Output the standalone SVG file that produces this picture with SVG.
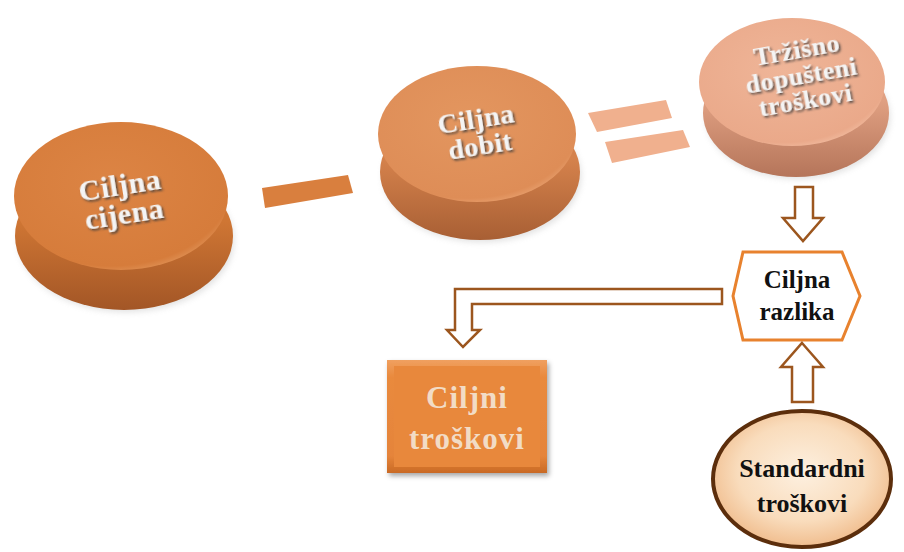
<svg xmlns="http://www.w3.org/2000/svg" width="904" height="552" viewBox="0 0 904 552">
<defs>
<radialGradient id="top1" cx="0.45" cy="0.4" r="0.65">
<stop offset="0" stop-color="#dc8444"/><stop offset="0.88" stop-color="#d67c3b"/><stop offset="1" stop-color="#e3995f"/>
</radialGradient>
<linearGradient id="side1" x1="0" y1="0" x2="0" y2="1">
<stop offset="0.4" stop-color="#cf7634"/><stop offset="1" stop-color="#a35626"/>
</linearGradient>
<radialGradient id="top2" cx="0.45" cy="0.4" r="0.65">
<stop offset="0" stop-color="#e3965f"/><stop offset="0.88" stop-color="#de8d57"/><stop offset="1" stop-color="#eba676"/>
</radialGradient>
<linearGradient id="side2" x1="0" y1="0" x2="0" y2="1">
<stop offset="0.4" stop-color="#d5824c"/><stop offset="1" stop-color="#a85f34"/>
</linearGradient>
<radialGradient id="top3" cx="0.45" cy="0.4" r="0.65">
<stop offset="0" stop-color="#efb598"/><stop offset="0.88" stop-color="#eaa98a"/><stop offset="1" stop-color="#f3c0a5"/>
</radialGradient>
<linearGradient id="side3" x1="0" y1="0" x2="0" y2="1">
<stop offset="0.4" stop-color="#e0a082"/><stop offset="1" stop-color="#b5755a"/>
</linearGradient>
<radialGradient id="std" cx="0.5" cy="0.45" r="0.6">
<stop offset="0" stop-color="#fdf0e0"/><stop offset="0.6" stop-color="#f9dcbc"/><stop offset="1" stop-color="#eeb582"/>
</radialGradient>
<linearGradient id="boxg" x1="0" y1="0" x2="0" y2="1">
<stop offset="0" stop-color="#f0a060"/><stop offset="0.15" stop-color="#e98a3e"/><stop offset="0.85" stop-color="#e5843a"/><stop offset="1" stop-color="#c96a25"/>
</linearGradient>
<filter id="emb" x="-10%" y="-10%" width="130%" height="140%">
<feDropShadow dx="1.5" dy="2" stdDeviation="0.8" flood-color="#3a3a3a" flood-opacity="0.85"/>
</filter>
<filter id="shd" x="-10%" y="-10%" width="130%" height="130%">
<feDropShadow dx="2" dy="3" stdDeviation="2.5" flood-color="#000" flood-opacity="0.35"/>
</filter>
<filter id="blur1" x="-10%" y="-10%" width="120%" height="130%">
<feGaussianBlur stdDeviation="3"/>
</filter>
</defs>
<style>
.disc{font-family:"Liberation Serif","DejaVu Serif",serif;font-weight:bold;fill:#f4f4f4;text-anchor:middle;letter-spacing:0.5px}
.lbl{font-family:"Liberation Serif","DejaVu Serif",serif;font-weight:bold;fill:#111;text-anchor:middle}
.arr{fill:#fff;stroke:#9c561e;stroke-width:2.5;stroke-linejoin:miter}
.op1{fill:#d97f3e}
.op2{fill:#f0b08e}
</style>
<rect width="904" height="552" fill="#fff"/>

<g id="node-ciljna-cijena">
<ellipse cx="126" cy="240" rx="108" ry="72" fill="#888" opacity="0.25" filter="url(#blur1)"/>
<ellipse cx="124" cy="236" rx="109" ry="74" fill="url(#side1)"/>
<ellipse cx="121" cy="196" rx="107" ry="74" fill="url(#top1)"/>
<g transform="rotate(-9 122 200)" filter="url(#emb)">
<text class="disc" x="122" y="195" font-size="30">Ciljna</text>
<text class="disc" x="122" y="224" font-size="30">cijena</text>
</g>
</g>

<g id="node-ciljna-dobit">
<ellipse cx="482" cy="176" rx="99" ry="66" fill="#888" opacity="0.25" filter="url(#blur1)"/>
<ellipse cx="480" cy="172" rx="100" ry="68" fill="url(#side2)"/>
<ellipse cx="477" cy="134" rx="99" ry="68" fill="url(#top2)"/>
<g transform="rotate(-9 478 132)" filter="url(#emb)">
<text class="disc" x="478" y="128" font-size="28">Ciljna</text>
<text class="disc" x="478" y="155" font-size="28">dobit</text>
</g>
</g>

<g id="node-trzisno">
<ellipse cx="798" cy="117" rx="92" ry="62" fill="#888" opacity="0.25" filter="url(#blur1)"/>
<ellipse cx="796" cy="113" rx="93" ry="64" fill="url(#side3)"/>
<ellipse cx="792" cy="82" rx="93" ry="64" fill="url(#top3)"/>
<g transform="rotate(-10 802 80)" filter="url(#emb)">
<text class="disc" x="802" y="58" font-size="26">Tržišno</text>
<text class="disc" x="802" y="84" font-size="26">dopušteni</text>
<text class="disc" x="802" y="109" font-size="26">troškovi</text>
</g>
</g>

<g id="node-ciljna-razlika">
<polygon points="743,252 842,252 860,296 842,340 743,340 733,296" fill="#fff" stroke="#e8822e" stroke-width="3"/>
<text class="lbl" x="797" y="288" font-size="25">Ciljna</text>
<text class="lbl" x="797" y="320" font-size="25">razlika</text>
</g>

<g id="node-ciljni-troskovi">
<rect x="387" y="360" width="160" height="113" fill="url(#boxg)" filter="url(#shd)"/>
<rect x="394" y="366" width="146" height="101" fill="#e8883c"/>
<text x="467" y="408" font-size="31" font-family="Liberation Serif, DejaVu Serif, serif" font-weight="bold" fill="#f2dcc6" text-anchor="middle" letter-spacing="1">Ciljni</text>
<text x="467" y="449" font-size="31" font-family="Liberation Serif, DejaVu Serif, serif" font-weight="bold" fill="#f2dcc6" text-anchor="middle" letter-spacing="1">troškovi</text>
</g>

<g id="node-standardni">
<ellipse cx="802" cy="479" rx="89" ry="68" fill="url(#std)" stroke="#5c2e0c" stroke-width="4"/>
<text class="lbl" x="802" y="477" font-size="26">Standardni</text>
<text class="lbl" x="802" y="512" font-size="26">troškovi</text>
</g>

<g id="connectors">
<polygon class="op1" points="262,188 348,175 353,193 265,208"/>
<polygon class="op2" points="588,113 666,100 672,118 597,132"/>
<polygon class="op2" points="605,142 683,130 690,147 612,163"/>
<polygon class="arr" points="795,187 813,187 813,218 823,218 803,241 783,218 795,218"/>
<polygon class="arr" points="802,343 823,367 813,367 813,402 792,402 792,367 781,367"/>
<polygon class="arr" points="722,289 722,304 472,304 472,330 480,330 463,347 447,330 455,330 455,289"/>
</g>
</svg>
